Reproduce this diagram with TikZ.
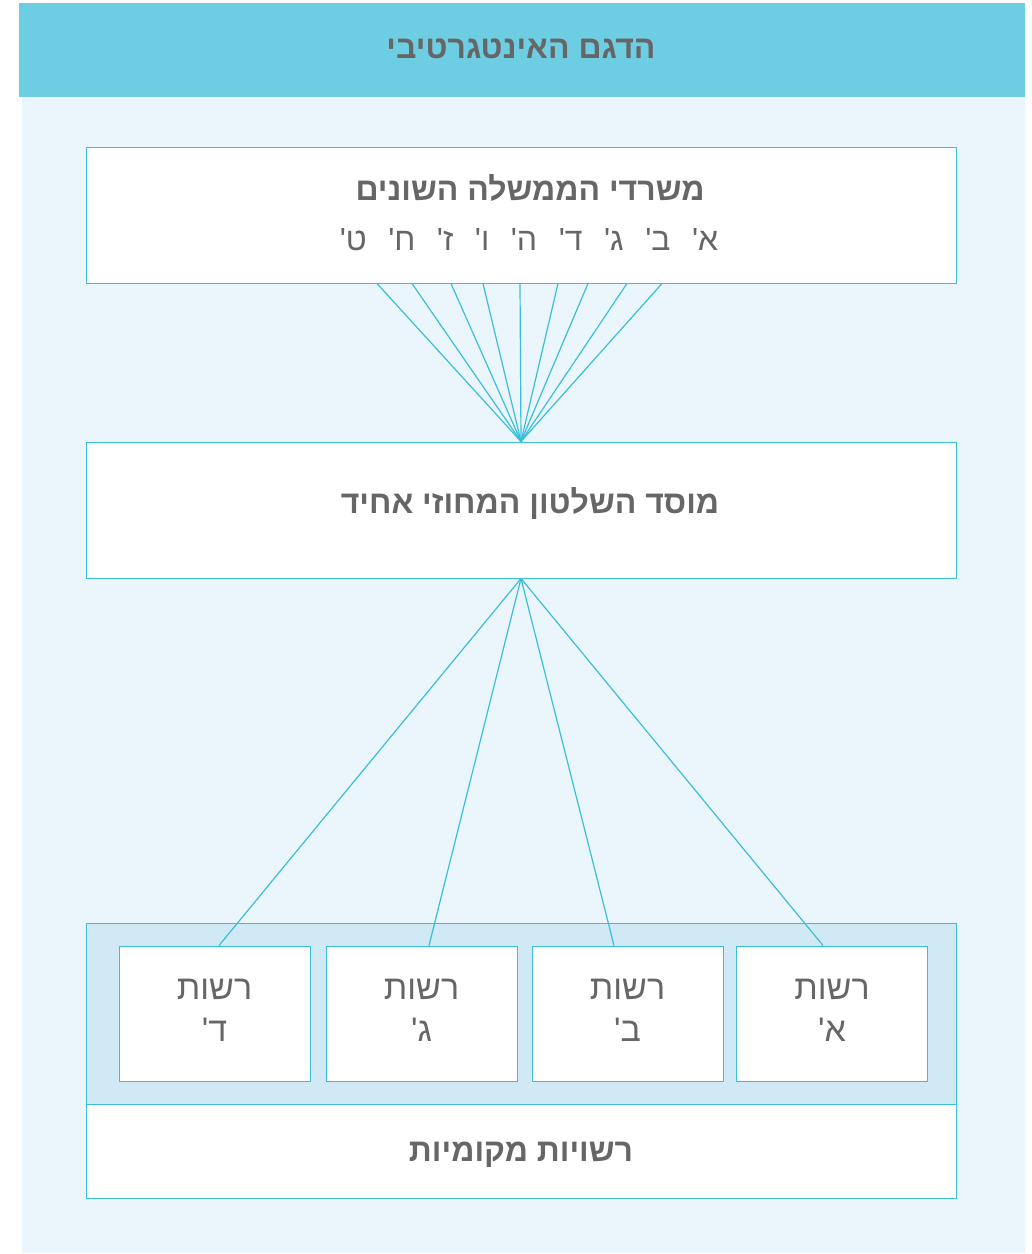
\documentclass[tikz,border=0pt]{standalone}
\usepackage{fontspec}
\setmainfont{Liberation Sans}
\newfontfamily\heb[Script=Hebrew]{Liberation Sans}
\TeXXeTstate=1
\usetikzlibrary{calc}
\definecolor{hdr}{HTML}{6DCDE3}
\definecolor{panel}{HTML}{EAF6FB}
\definecolor{cline}{HTML}{3BBEDA}
\definecolor{grp}{HTML}{D0E9F4}
\definecolor{txt}{HTML}{666666}
\newcommand{\hb}[1]{{\heb\beginR #1\endR}}
\newcommand{\gp}{\hspace{21.5pt}}
\tikzset{
  boxst/.style={draw=cline, line width=1pt, fill=white, minimum width=870pt, minimum height=136pt, inner sep=0pt},
  smallbox/.style={draw=cline, line width=1pt, fill=white, minimum width=191pt, minimum height=135pt, inner sep=0pt},
  boldtxt/.style={text=txt, font=\heb\bfseries\fontsize{32}{38}\selectfont, inner sep=0pt},
  lighttxt/.style={text=txt, font=\heb\fontsize{34}{42}\selectfont, inner sep=0pt, align=center},
  conn/.style={draw=cline, line width=1.2pt}
}
\begin{document}
\begin{tikzpicture}[x=1pt,y=-1pt]
\useasboundingbox (0,0) rectangle (1032,1254);
\fill[white] (0,0) rectangle (1032,1254);
\fill[panel] (22,97) rectangle (1025,1253);
\node[fill=hdr, minimum width=1006pt, minimum height=94pt, inner sep=0pt] (header) at (522,50) {};
\node[boldtxt] (headert) at (521,49) {\hb{הדגם האינטגרטיבי}};

% top box
\node[boxst] (top) at (521,215) {};
\node[boldtxt] (topt) at (530,188) {\hb{משרדי הממשלה השונים}};
\node[lighttxt, font=\heb\fontsize{32}{38}\selectfont] (topl) at (529,240) {\hb{א'\gp ב'\gp ג'\gp ד'\gp ה'\gp ו'\gp ז'\gp ח'\gp ט'}};

% middle box
\node[boxst] (mid) at (521,510) {};
\node[boldtxt] (midt) at (530,503) {\hb{מוסד השלטון המחוזי אחיד}};

% fan lines
\foreach \dx in {-144,-109,-70,-38,-1,37,67,106,141}{
  \draw[conn] ($(top.south)+(\dx,0)$) -- (mid.north);
}

% local authorities group
\node[draw=cline, line width=1pt, fill=grp, minimum width=870pt, minimum height=181pt, inner sep=0pt] (grp) at (521,1013.5) {};
\node[boxst, minimum height=94pt] (local) at (521,1151) {};
\node[boldtxt] (localt) at (521,1155) {\hb{רשויות מקומיות}};

\node[smallbox] (rd) at (214.5,1013.5) {};
\node[smallbox] (rc) at (421.5,1013.5) {};
\node[smallbox] (rb) at (627.5,1013.5) {};
\node[smallbox] (ra) at (832,1013.5) {};

\node[lighttxt] (rdt) at (214.5,1010) {\hb{רשות}\\\hb{ד'}};
\node[lighttxt] (rct) at (421.5,1010) {\hb{רשות}\\\hb{ג'}};
\node[lighttxt] (rbt) at (627.5,1010) {\hb{רשות}\\\hb{ב'}};
\node[lighttxt] (rat) at (832,1010) {\hb{רשות}\\\hb{א'}};

\draw[conn] (mid.south) -- ($(rd.north)+(4.5,0)$);
\draw[conn] (mid.south) -- ($(rc.north)+(7.5,0)$);
\draw[conn] (mid.south) -- ($(rb.north)+(-13.5,0)$);
\draw[conn] (mid.south) -- ($(ra.north)+(-9,0)$);
\end{tikzpicture}
\end{document}
